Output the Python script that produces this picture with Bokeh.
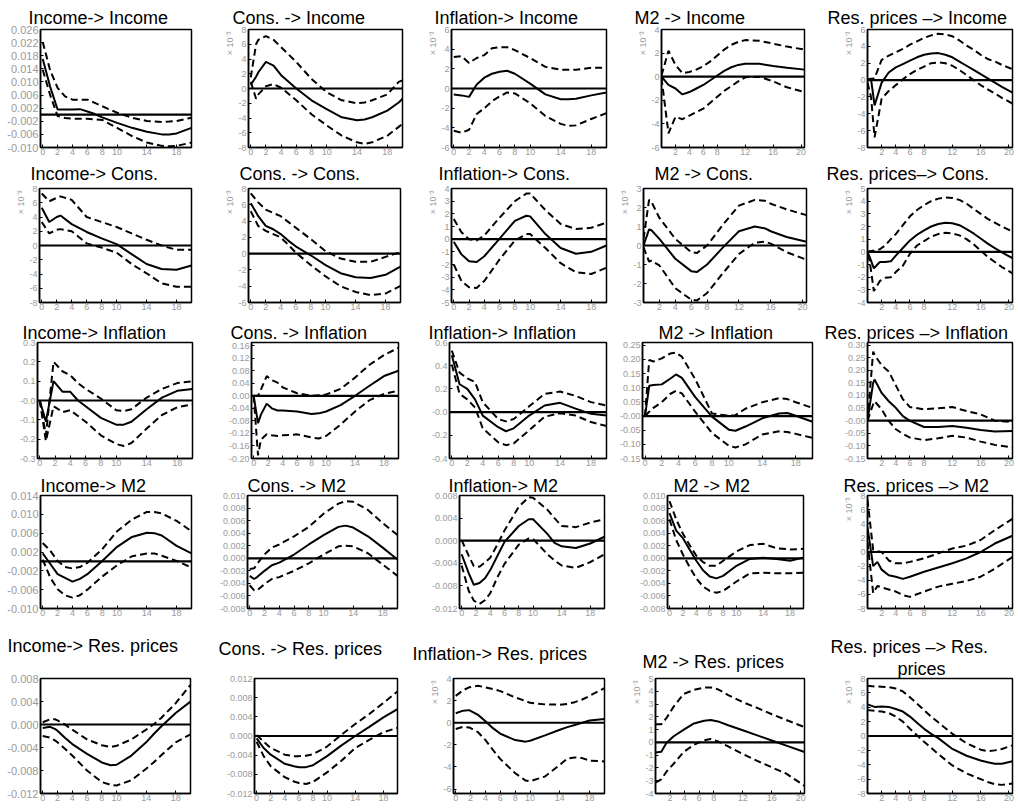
import math
from bokeh.plotting import figure
from bokeh.layouts import row, column
from bokeh.models import Span, Title, FixedTicker, Range1d, CustomJSTickFormatter
from bokeh.embed import file_html
from bokeh.resources import INLINE

# ---------------- x tick sets ----------------
XT_A = [0, 2, 4, 6, 8, 10, 14, 18]
XT_B = [2, 4, 6, 8, 12, 16, 20]

# ---------------- data ----------------
# Row 1 : -> Income
P11_T = [0, 1, 2, 3, 4, 5, 6, 7, 8, 10, 12, 14, 16, 17, 18, 20]
P11_MID = [0.0170, 0.0085, 0.0016, 0.0016, 0.0016, 0.0017, 0.0010, 0.0002, -0.0008, -0.0025, -0.0040, -0.0052, -0.0060, -0.0060, -0.0057, -0.0040]
P11_HI = [0.0222, 0.0135, 0.0082, 0.0056, 0.0046, 0.0046, 0.0046, 0.0036, 0.0026, 0.0006, -0.0009, -0.0019, -0.0022, -0.0021, -0.0019, -0.0009]
P11_LO = [0.0137, 0.0060, -0.0004, -0.0010, -0.0012, -0.0012, -0.0012, -0.0014, -0.0016, -0.0040, -0.0065, -0.0085, -0.0095, -0.0096, -0.0095, -0.0085]
P11_YT = [-0.010, -0.006, -0.002, 0.002, 0.006, 0.010, 0.014, 0.018, 0.022, 0.026]
P11_YL = ["-0.010", "-0.006", "-0.002", "0.002", "0.006", "0.010", "0.014", "0.018", "0.022", "0.026"]

P12_T = [0, 0.7, 1, 2, 3, 4, 6, 8, 10, 12, 14, 15, 16, 18, 19.5, 20]
P12_MID = [0.5, 1.6, 2.2, 3.6, 3.1, 1.8, 0.0, -1.6, -2.8, -3.9, -4.3, -4.2, -3.9, -3.0, -1.9, -1.4]
P12_HI = [1.5, 6.0, 6.6, 7.1, 6.6, 5.6, 3.6, 1.3, -0.5, -1.6, -2.0, -1.9, -1.6, -0.8, 0.9, 1.1]
P12_LO = [0.9, -1.4, -0.8, 0.3, 0.6, 0.1, -1.6, -3.5, -5.0, -6.4, -7.3, -7.5, -7.3, -6.4, -5.2, -4.8]
P12_YT = [-8, -6, -4, -2, 0, 2, 4, 6, 8]
P12_YL = ["-8", "-6", "-4", "-2", "0", "2", "4", "6", "8"]

P13_T = [0, 1, 2, 3, 4, 5, 6, 7, 8, 10, 12, 14, 15, 16, 18, 20]
P13_MID = [-0.6, -0.7, -0.85, 0.4, 1.1, 1.5, 1.7, 1.8, 1.5, 0.5, -0.6, -1.1, -1.1, -1.05, -0.7, -0.4]
P13_HI = [3.2, 3.3, 2.6, 3.1, 3.4, 4.1, 4.2, 4.2, 3.9, 3.1, 2.2, 1.9, 1.9, 1.9, 2.1, 2.1]
P13_LO = [-4.3, -4.5, -4.2, -2.6, -2.0, -1.3, -0.8, -0.4, -0.5, -1.5, -2.8, -3.6, -3.8, -3.75, -3.1, -2.5]
P13_YT = [-6, -4, -2, 0, 2, 4, 6]
P13_YL = ["-6", "-4", "-2", "0", "2", "4", "6"]

P14_T = [0, 1, 2, 3, 4, 5, 6, 7, 8, 9, 10, 11, 12, 14, 16, 18, 20.5]
P14_MID = [0.0, -0.7, -1.0, -1.5, -1.3, -1.0, -0.7, -0.3, 0.1, 0.5, 0.8, 1.0, 1.1, 1.1, 0.9, 0.75, 0.6]
P14_HI = [0.1, 2.2, 1.0, 0.3, 0.4, 0.6, 0.9, 1.3, 1.8, 2.3, 2.7, 2.95, 3.1, 3.05, 2.8, 2.55, 2.3]
P14_LO = [-0.1, -4.8, -3.4, -3.6, -3.3, -3.0, -2.7, -2.2, -1.7, -1.2, -0.8, -0.4, -0.05, 0.0, -0.4, -0.9, -1.3]
P14_YT = [-6, -4, -2, 0, 2, 4]
P14_YL = ["-6", "-4", "-2", "0", "2", "4"]

P15_T = [0, 0.5, 1, 2, 3, 4, 5, 6, 7, 8, 9, 10, 11, 12, 13, 14, 15, 16, 17, 18, 19, 20.5]
P15_MID = [0.0, 0.1, -3.0, -0.3, 0.9, 1.5, 1.9, 2.3, 2.7, 3.0, 3.15, 3.2, 3.0, 2.7, 2.2, 1.7, 1.2, 0.7, 0.2, -0.3, -0.8, -1.5]
P15_HI = [0.1, 0.15, 0.2, 2.4, 2.9, 3.3, 3.7, 4.2, 4.6, 5.0, 5.3, 5.5, 5.4, 5.2, 4.7, 4.1, 3.6, 3.0, 2.5, 2.2, 1.8, 1.3]
P15_LO = [-0.3, -2.0, -6.8, -2.2, -1.3, -0.6, 0.1, 0.7, 1.2, 1.6, 2.0, 2.1, 2.0, 1.7, 1.2, 0.6, 0.0, -0.6, -1.1, -1.6, -2.1, -2.8]
P15_YT = [-8, -6, -4, -2, 0, 2, 4, 6]
P15_YL = ["-8", "-6", "-4", "-2", "0", "2", "4", "6"]

# Row 2 : -> Cons.
P21_T = [0, 1, 2, 2.5, 4, 6, 8, 10, 12, 14, 16, 18, 20]
P21_MID = [5.3, 3.3, 4.0, 4.2, 3.0, 1.9, 1.0, 0.2, -1.2, -2.6, -3.3, -3.4, -2.8]
P21_HI = [7.3, 6.2, 6.7, 6.9, 6.4, 4.0, 3.3, 2.6, 1.7, 0.8, 0.0, -0.6, -0.6]
P21_LO = [3.3, 1.7, 2.2, 2.3, 2.0, 0.3, -0.3, -1.0, -2.6, -3.9, -5.3, -5.8, -5.8]
P21_YT = [-8, -6, -4, -2, 0, 2, 4, 6, 8]
P21_YL = ["-8", "-6", "-4", "-2", "0", "2", "4", "6", "8"]

P22_T = [0, 1, 2, 3, 4, 5, 6, 8, 10, 12, 14, 16, 18, 20]
P22_MID = [6.2, 4.6, 3.4, 3.0, 2.4, 1.6, 0.9, -0.2, -1.4, -2.4, -2.9, -3.0, -2.6, -1.6]
P22_HI = [7.4, 6.3, 5.4, 5.0, 4.6, 3.9, 3.2, 1.8, 0.3, -0.6, -1.0, -1.0, -0.4, 0.2]
P22_LO = [5.2, 3.4, 2.8, 2.4, 2.0, 1.1, 0.15, -1.4, -2.8, -4.0, -4.7, -5.1, -4.9, -3.95]
P22_YT = [-6, -4, -2, 0, 2, 4, 6, 8]
P22_YL = ["-6", "-4", "-2", "0", "2", "4", "6", "8"]

P23_T = [0, 1, 2, 3, 4, 6, 8, 9.5, 10, 12, 14, 16, 18, 20]
P23_MID = [-0.2, -1.2, -1.75, -1.8, -1.35, 0.05, 1.45, 1.85, 1.8, 0.4, -0.7, -1.15, -1.0, -0.5]
P23_HI = [1.6, 0.55, 0.0, -0.1, 0.3, 1.7, 3.0, 3.6, 3.6, 2.3, 1.2, 0.8, 0.9, 1.3]
P23_LO = [-2.0, -3.3, -3.8, -3.85, -3.3, -1.6, -0.1, 0.4, 0.4, -0.7, -1.9, -2.6, -2.75, -2.25]
P23_YT = [-5, -4, -3, -2, -1, 0, 1, 2, 3, 4]
P23_YL = ["-5", "-4", "-3", "-2", "-1", "0", "1", "2", "3", "4"]

P24_T = [0, 0.7, 1, 2, 4, 6, 6.7, 8, 10, 12, 14, 15.3, 16, 18, 20.5]
P24_MID = [0.0, 0.85, 0.8, 0.35, -0.7, -1.35, -1.4, -1.0, -0.1, 0.75, 1.0, 0.9, 0.75, 0.45, 0.2]
P24_HI = [0.35, 2.4, 2.3, 1.45, 0.35, -0.35, -0.4, 0.0, 1.1, 2.1, 2.4, 2.35, 2.2, 1.9, 1.6]
P24_LO = [-0.1, -0.85, -0.8, -1.05, -2.25, -2.85, -2.9, -2.5, -1.45, -0.45, 0.15, 0.2, 0.1, -0.35, -0.75]
P24_YT = [-3, -2, -1, 0, 1, 2, 3]
P24_YL = ["-3", "-2", "-1", "0", "1", "2", "3"]

P25_T = [0, 0.3, 0.9, 1.75, 2.5, 3.3, 4, 5, 6, 7, 8, 9, 10, 11, 12, 13, 14, 15, 16, 17, 18, 19, 20.5]
P25_MID = [0.0, -0.4, -1.3, -0.8, -0.8, -0.75, -0.3, 0.3, 0.9, 1.35, 1.7, 2.0, 2.2, 2.3, 2.25, 2.1, 1.8, 1.45, 1.05, 0.65, 0.3, -0.05, -0.5]
P25_HI = [0.0, 0.05, 0.1, 0.2, 0.5, 1.0, 1.4, 2.1, 2.8, 3.3, 3.7, 4.0, 4.2, 4.3, 4.25, 4.1, 3.8, 3.4, 3.0, 2.6, 2.3, 2.0, 1.6]
P25_LO = [-0.2, -0.7, -3.1, -2.3, -2.05, -2.0, -1.6, -1.1, -0.15, 0.5, 0.85, 1.2, 1.4, 1.5, 1.45, 1.3, 1.0, 0.6, 0.1, -0.4, -0.8, -1.2, -1.7]
P25_YT = [-4, -3, -2, -1, 0, 1, 2, 3, 4, 5]
P25_YL = ["-4", "-3", "-2", "-1", "0", "1", "2", "3", "4", "5"]

# Row 3 : -> Inflation
P31_T = [0, 0.8, 1.8, 3, 4, 5, 6, 8, 10, 11, 12, 14, 16, 18, 20]
P31_MID = [0.0, -0.11, 0.10, 0.045, 0.045, 0.0, -0.03, -0.09, -0.125, -0.125, -0.11, -0.045, 0.015, 0.05, 0.06]
P31_HI = [0.0, -0.18, 0.20, 0.15, 0.13, 0.09, 0.06, 0.01, -0.05, -0.055, -0.045, 0.015, 0.06, 0.09, 0.10]
P31_LO = [0.0, -0.21, -0.03, -0.06, -0.05, -0.08, -0.11, -0.18, -0.225, -0.235, -0.22, -0.145, -0.075, -0.035, -0.02]
P31_YT = [-0.3, -0.2, -0.1, 0.0, 0.1, 0.2, 0.3]
P31_YL = ["-0.3", "-0.2", "-0.1", "-0.0", "0.1", "0.2", "0.3"]

P32_T = [0, 0.6, 1, 1.8, 2.5, 3.3, 4, 6, 8, 9, 10, 12, 14, 16, 18, 20]
P32_MID = [0.0, -0.087, -0.06, -0.025, -0.04, -0.047, -0.047, -0.05, -0.058, -0.056, -0.05, -0.03, 0.0, 0.032, 0.063, 0.08]
P32_HI = [0.0, 0.0, 0.02, 0.063, 0.05, 0.042, 0.027, 0.008, 0.0, 0.002, 0.004, 0.022, 0.058, 0.099, 0.13, 0.153]
P32_LO = [0.0, -0.19, -0.14, -0.123, -0.126, -0.128, -0.126, -0.123, -0.133, -0.136, -0.128, -0.092, -0.05, -0.014, 0.006, 0.016]
P32_YT = [-0.20, -0.16, -0.12, -0.08, -0.04, 0.0, 0.04, 0.08, 0.12, 0.16]
P32_YL = ["-0.20", "-0.16", "-0.12", "-0.08", "-0.04", "0.00", "0.04", "0.08", "0.12", "0.16"]

P33_T = [0, 1, 2, 3, 4, 6, 7, 8, 10, 12, 14, 16, 18, 20]
P33_MID = [0.49, 0.24, 0.20, 0.11, -0.03, -0.13, -0.165, -0.14, -0.03, 0.057, 0.08, 0.03, -0.015, -0.03]
P33_HI = [0.53, 0.34, 0.29, 0.26, 0.085, -0.06, -0.08, -0.06, 0.05, 0.157, 0.177, 0.14, 0.086, 0.057]
P33_LO = [0.41, 0.157, 0.11, 0.04, -0.14, -0.26, -0.285, -0.27, -0.157, -0.04, -0.01, -0.03, -0.086, -0.12]
P33_YT = [-0.4, -0.2, 0.0, 0.2, 0.4, 0.6]
P33_YL = ["-0.4", "-0.2", "-0.0", "0.2", "0.4", "0.6"]

P34_T = [0, 0.5, 1, 2, 3, 3.7, 4.4, 6, 8, 10, 10.8, 12, 14, 16, 17, 18, 20]
P34_MID = [0.0, 0.107, 0.11, 0.112, 0.132, 0.147, 0.135, 0.067, -0.002, -0.048, -0.052, -0.037, -0.008, 0.009, 0.011, 0.001, -0.02]
P34_HI = [0.0, 0.198, 0.193, 0.204, 0.221, 0.224, 0.21, 0.13, 0.009, 0.001, 0.003, 0.026, 0.049, 0.063, 0.06, 0.049, 0.029]
P34_LO = [0.0, 0.015, 0.029, 0.049, 0.078, 0.089, 0.08, 0.015, -0.06, -0.105, -0.111, -0.10, -0.065, -0.054, -0.056, -0.063, -0.077]
P34_YT = [-0.15, -0.10, -0.05, 0.0, 0.05, 0.10, 0.15, 0.20, 0.25]
P34_YL = ["-0.15", "-0.10", "-0.05", "-0.00", "0.05", "0.10", "0.15", "0.20", "0.25"]

P35_T = [0, 0.8, 1, 2, 3, 4, 5, 6, 8, 10, 12, 14, 16, 18, 20.5]
P35_MID = [0.0, 0.15, 0.163, 0.11, 0.077, 0.051, 0.018, -0.001, -0.025, -0.025, -0.021, -0.028, -0.037, -0.043, -0.041]
P35_HI = [0.0, 0.274, 0.26, 0.22, 0.195, 0.14, 0.085, 0.054, 0.045, 0.049, 0.054, 0.038, 0.025, 0.0, -0.005]
P35_LO = [0.0, 0.065, 0.077, 0.045, -0.001, -0.034, -0.052, -0.067, -0.077, -0.07, -0.06, -0.067, -0.083, -0.096, -0.106]
P35_YT = [-0.15, -0.10, -0.05, 0.0, 0.05, 0.10, 0.15, 0.20, 0.25, 0.30]
P35_YL = ["-0.15", "-0.10", "-0.05", "-0.00", "0.05", "0.10", "0.15", "0.20", "0.25", "0.30"]

# Row 4 : -> M2
P41_T = [0, 1, 2, 3, 4, 5, 6, 8, 10, 12, 14, 15, 16, 18, 20]
P41_MID = [0.0017, -0.0005, -0.0027, -0.0035, -0.0043, -0.0037, -0.0027, 0.0001, 0.0031, 0.0052, 0.0061, 0.0060, 0.0055, 0.0033, 0.0017]
P41_HI = [0.0039, 0.0023, 0.0001, -0.0012, -0.0015, -0.0012, -0.0003, 0.0026, 0.0064, 0.0089, 0.0105, 0.0105, 0.0102, 0.0086, 0.0064]
P41_LO = [0.0004, -0.0034, -0.0059, -0.0072, -0.0077, -0.0072, -0.0060, -0.0032, -0.0008, 0.0011, 0.0017, 0.0017, 0.0012, 0.0001, -0.0013]
P41_YT = [-0.010, -0.006, -0.002, 0.002, 0.006, 0.010, 0.014]
P41_YL = ["-0.010", "-0.006", "-0.002", "0.002", "0.006", "0.010", "0.014"]

P42_T = [0, 0.6, 1, 2, 3, 4, 6, 8, 10, 12, 13, 14, 16, 18, 20]
P42_MID = [-0.0028, -0.0033, -0.0030, -0.0020, -0.0011, -0.0007, 0.0006, 0.0022, 0.0037, 0.0050, 0.0052, 0.0049, 0.0035, 0.0017, -0.0002]
P42_HI = [-0.0017, -0.0016, -0.0009, 0.0006, 0.0017, 0.0022, 0.0035, 0.0050, 0.0071, 0.0087, 0.0091, 0.0090, 0.0077, 0.0056, 0.0037]
P42_LO = [-0.0043, -0.0051, -0.0051, -0.0041, -0.0033, -0.0030, -0.0020, -0.0008, 0.0006, 0.0019, 0.0020, 0.0019, 0.0008, -0.0010, -0.0028]
P42_YT = [-0.008, -0.006, -0.004, -0.002, 0.0, 0.002, 0.004, 0.006, 0.008, 0.010]
P42_YL = ["-0.008", "-0.006", "-0.004", "-0.002", "0.000", "0.002", "0.004", "0.006", "0.008", "0.010"]

P43_T = [0, 1, 1.7, 2.5, 3.3, 4, 5, 6, 8, 9.4, 10, 12, 13, 14, 16, 18, 20]
P43_MID = [-0.0024, -0.0058, -0.0078, -0.0075, -0.0066, -0.0052, -0.0027, -0.0002, 0.0026, 0.0038, 0.0038, 0.0012, -0.0004, -0.0010, -0.0013, -0.0005, 0.0007]
P43_HI = [0.0001, -0.0027, -0.0045, -0.0046, -0.0038, -0.0030, -0.0007, 0.0018, 0.0060, 0.0077, 0.0076, 0.0055, 0.0040, 0.0026, 0.0024, 0.0032, 0.0038]
P43_LO = [-0.0044, -0.0089, -0.0106, -0.0112, -0.0105, -0.0093, -0.0065, -0.0041, -0.0007, 0.0004, 0.0003, -0.0024, -0.0035, -0.0044, -0.0048, -0.0038, -0.0024]
P43_YT = [-0.012, -0.008, -0.004, 0.0, 0.004, 0.008]
P43_YL = ["-0.012", "-0.008", "-0.004", "0.000", "0.004", "0.008"]

P44_T = [0, 1, 2, 3, 4, 5, 6, 7, 8, 10, 12, 14, 16, 18, 20]
P44_MID = [0.0072, 0.0044, 0.0032, 0.0014, -0.0004, -0.0019, -0.0029, -0.0032, -0.0028, -0.0012, -0.0001, 0.0001, -0.0001, -0.0004, 0.0001]
P44_HI = [0.0091, 0.0062, 0.0039, 0.0021, 0.0004, -0.0006, -0.0012, -0.0012, -0.0004, 0.0011, 0.0021, 0.0023, 0.0016, 0.0014, 0.0015]
P44_LO = [0.0062, 0.0029, 0.0006, -0.0014, -0.0032, -0.0045, -0.0052, -0.0055, -0.0052, -0.0037, -0.0024, -0.0023, -0.0024, -0.0024, -0.0023]
P44_YT = [-0.008, -0.006, -0.004, -0.002, 0.0, 0.002, 0.004, 0.006, 0.008, 0.010]
P44_YL = ["-0.008", "-0.006", "-0.004", "-0.002", "0.000", "0.002", "0.004", "0.006", "0.008", "0.010"]

P45_T = [0, 0.8, 1.4, 2, 3, 4, 5, 6, 8, 10, 12, 14, 16, 18, 20.5]
P45_MID = [3.5, -2.0, -1.4, -2.5, -3.3, -3.5, -3.8, -3.5, -2.8, -2.2, -1.6, -0.9, 0.0, 1.2, 2.3]
P45_HI = [7.4, 0.3, 0.1, 0.0, -1.2, -1.6, -1.6, -1.4, -0.9, -0.2, 0.5, 0.9, 1.7, 3.1, 4.7]
P45_LO = [1.4, -5.8, -4.8, -5.0, -5.3, -5.6, -6.1, -6.35, -5.6, -4.9, -4.5, -4.1, -3.5, -2.35, -0.7]
P45_YT = [-8, -6, -4, -2, 0, 2, 4, 6, 8]
P45_YL = ["-8", "-6", "-4", "-2", "0", "2", "4", "6", "8"]

# Row 5 : -> Res. prices
P51_T = [0, 1, 1.7, 2, 3, 4, 6, 8, 9.2, 10, 12, 14, 15, 16, 18, 20]
P51_MID = [-0.0006, -0.0004, -0.0008, -0.0011, -0.0023, -0.0034, -0.0051, -0.0066, -0.0071, -0.0070, -0.0054, -0.0031, -0.0017, -0.0004, 0.0020, 0.0040]
P51_HI = [0.0004, 0.0009, 0.0009, 0.0007, 0.0000, -0.0009, -0.0026, -0.0036, -0.0039, -0.0037, -0.0026, -0.0009, 0.0000, 0.0011, 0.0037, 0.0069]
P51_LO = [-0.0020, -0.0023, -0.0028, -0.0031, -0.0042, -0.0054, -0.0080, -0.0100, -0.0105, -0.0106, -0.0097, -0.0077, -0.0066, -0.0054, -0.0031, -0.0017]
P51_YT = [-0.012, -0.008, -0.004, 0.0, 0.004, 0.008]
P51_YL = ["-0.012", "-0.008", "-0.004", "0.000", "0.004", "0.008"]

P52_T = [0, 1, 2, 4, 5.3, 6, 7, 8, 10, 12, 14, 16, 18, 20]
P52_MID = [-0.0005, -0.0025, -0.0039, -0.0058, -0.0063, -0.0065, -0.0065, -0.0061, -0.0042, -0.0020, 0.0000, 0.0019, 0.0039, 0.0056]
P52_HI = [0.0002, -0.0012, -0.0025, -0.0039, -0.0042, -0.0042, -0.0041, -0.0038, -0.0022, 0.0002, 0.0025, 0.0046, 0.0069, 0.0093]
P52_LO = [-0.0012, -0.0042, -0.0063, -0.0086, -0.0095, -0.0098, -0.0100, -0.0096, -0.0076, -0.0052, -0.0025, -0.0008, 0.0008, 0.0017]
P52_YT = [-0.012, -0.008, -0.004, 0.0, 0.004, 0.008, 0.012]
P52_YL = ["-0.012", "-0.008", "-0.004", "0.000", "0.004", "0.008", "0.012"]

P53_T = [0, 1, 1.8, 3, 4, 5, 6, 8, 9.4, 10, 12, 14, 15, 16, 17, 18, 20]
P53_MID = [0.86, 1.09, 1.14, 0.71, 0.14, -0.49, -1.0, -1.57, -1.71, -1.63, -1.14, -0.63, -0.4, -0.2, 0.0, 0.2, 0.34]
P53_HI = [2.43, 2.94, 3.2, 3.34, 3.2, 3.05, 2.86, 2.29, 1.95, 1.8, 1.66, 1.63, 1.7, 1.86, 2.1, 2.43, 3.14]
P53_LO = [-0.57, -0.37, -0.43, -0.86, -1.57, -2.45, -3.29, -4.57, -5.23, -5.29, -4.86, -3.8, -3.23, -3.14, -3.2, -3.43, -3.5]
P53_YT = [-6, -4, -2, 0, 2, 4]
P53_YL = ["-6", "-4", "-2", "0", "2", "4"]

P54_T = [0, 0.8, 1.5, 2.5, 3.9, 5.3, 6.7, 7.6, 8.6, 10, 12, 14, 16, 18, 20.5]
P54_MID = [-0.8, -0.73, -0.05, 0.48, 1.0, 1.48, 1.7, 1.75, 1.64, 1.34, 0.95, 0.55, 0.15, -0.25, -0.75]
P54_HI = [1.42, 1.42, 1.9, 2.8, 3.8, 4.11, 4.3, 4.3, 4.15, 3.7, 3.15, 2.7, 2.2, 1.75, 1.2]
P54_LO = [-3.15, -2.9, -2.3, -1.67, -0.73, -0.19, 0.16, 0.27, 0.08, -0.32, -0.9, -1.45, -1.95, -2.45, -3.4]
P54_YT = [-4, -3, -2, -1, 0, 1, 2, 3, 4, 5]
P54_YL = ["-4", "-3", "-2", "-1", "0", "1", "2", "3", "4", "5"]

P55_T = [0, 1, 2, 3, 4, 5, 6, 7, 8, 9, 10, 12, 14, 16, 17, 18, 19, 20.5]
P55_MID = [4.4, 4.05, 4.1, 4.05, 3.75, 3.4, 2.7, 1.85, 1.0, 0.3, -0.3, -1.8, -2.75, -3.4, -3.65, -3.85, -3.85, -3.5]
P55_HI = [7.0, 6.9, 6.85, 6.8, 6.6, 6.2, 5.4, 4.5, 3.6, 2.7, 1.9, 0.3, -1.0, -1.9, -2.1, -2.0, -1.8, -1.3]
P55_LO = [3.6, 3.5, 3.4, 3.2, 2.7, 2.0, 1.0, 0.1, -0.8, -1.65, -2.5, -4.1, -5.2, -6.0, -6.4, -6.7, -6.8, -6.6]
P55_YT = [-8, -6, -4, -2, 0, 2, 4, 6, 8]
P55_YL = ["-8", "-6", "-4", "-2", "0", "2", "4", "6", "8"]

# panel titles (row = response variable, column = shock)
TITLES = [
    ["Income-> Income", "Cons. -> Income", "Inflation-> Income", "M2 -> Income", "Res. prices \u2013> Income"],
    ["Income-> Cons.", "Cons.  -> Cons.", "Inflation-> Cons.", "M2 -> Cons.", "Res. prices\u2013> Cons."],
    ["Income-> Inflation", "Cons. -> Inflation", "Inflation-> Inflation", "M2 -> Inflation", "Res. prices \u2013> Inflation"],
    ["Income-> M2", "Cons.  -> M2", "Inflation-> M2", "M2 -> M2", "Res. prices \u2013> M2"],
    ["Income-> Res. prices", "Cons. -> Res. prices", "Inflation-> Res. prices", "M2 -> Res. prices", "Res. prices \u2013> Res.|prices"],
]

# y-axis limits of each panel
Y_LIMITS = [
    [(-0.010, 0.026), (-8, 8), (-6, 6), (-6, 4), (-8, 6)],
    [(-8, 8), (-6, 8), (-5, 4), (-3, 3), (-4, 5)],
    [(-0.3, 0.3), (-0.2, 0.17), (-0.4, 0.6), (-0.15, 0.26), (-0.15, 0.31)],
    [(-0.010, 0.014), (-0.008, 0.010), (-0.012, 0.008), (-0.008, 0.010), (-8, 8)],
    [(-0.012, 0.008), (-0.012, 0.012), (-6.4, 4), (-4, 5), (-8, 8)],
]

# panels whose values are shown in units of 10^-3
SCALED = [
    [False, True, True, True, True],
    [True, True, True, True, True],
    [False, False, False, False, False],
    [False, False, False, False, True],
    [False, False, True, True, True],
]
SCALE_TEXT = "\u00d7 10\u207b\u00b3"

# which x tick set each panel uses
XKIND = [
    ["A", "A", "A", "B", "B"],
    ["A", "A", "A", "B", "B"],
    ["A", "A", "A", "A", "B"],
    ["A", "A", "A", "A", "B"],
    ["A", "A", "A", "B", "B"],
]

SERIES = {}
for _r in range(5):
    for _c in range(5):
        _k = "P%d%d" % (_r + 1, _c + 1)
        g = globals()
        SERIES[(_r, _c)] = (g[_k + "_T"], g[_k + "_MID"], g[_k + "_LO"], g[_k + "_HI"], g[_k + "_YT"], g[_k + "_YL"])

# ---------------- layout (page pixels) ----------------
ROW_Y = [0, 160, 319, 472, 632, 811]
COL_X = [0, 206, 412, 616, 822, 1018]
FRAME = [
    [(40, 191, 29, 148), (248, 402, 29, 147), (451, 606, 29, 148), (661, 804, 29, 148), (867, 1012, 29, 148)],
    [(39, 191, 188, 307), (248, 400, 188, 306), (451, 606, 188, 306), (642, 806, 188, 305), (867, 1012, 188, 302)],
    [(37, 192, 342, 460), (251, 398, 342, 460), (449, 606, 342, 460), (637, 812, 342, 460), (867, 1012, 342, 458)],
    [(40, 191, 495, 620), (247, 397, 495, 610), (459, 604, 495, 613), (667, 803, 495, 613), (867, 1012, 495, 608)],
    [(40, 190, 678, 795), (254, 397, 675, 793), (453, 604, 670, 795), (655, 804, 662, 793), (867, 1012, 672, 793)],
]
TITLE_LEFT = [
    [28, 232, 434, 634, 827],
    [30, 239, 438, 653, 826],
    [22, 230, 428, 653, 824],
    [40, 247, 448, 673, 843],
    [7, 218, 412, 642, 830],
]
TITLE_BASE = [23, 176, 336, 486, 648]
SECOND_LINE_LEFT = 897
SECOND_LINE_BASE = 664
TITLE_BOX = 23          # height a one-line 18px title takes in the top border

FONT = "Liberation Sans"
GRAY = "#9a9a9a"


def make_title(text, offset, gap):
    """Title whose text bottom sits `gap` px above the frame."""
    kw = dict(text=text, align="left", offset=offset, text_font=FONT, text_font_size="18px",
              text_font_style="normal", text_color="black", vertical_align="bottom")
    gap = max(0, gap)
    try:
        return Title(standoff=0, padding=dict(left=0, right=0, top=0, bottom=gap), **kw)
    except Exception:
        return Title(standoff=2 * gap, **kw)


def make_panel(r, c):
    T, MID, LO, HI, YT, YL = SERIES[(r, c)]
    fl, fr, ft, fb = FRAME[r][c]
    x0, x1 = COL_X[c], COL_X[c + 1]
    y0, y1 = ROW_Y[r], ROW_Y[r + 1]
    xt = XT_A if XKIND[r][c] == "A" else XT_B
    xr = (-0.3, 20.0) if XKIND[r][c] == "A" else (0.0, 20.5)
    p = figure(width=x1 - x0, height=y1 - y0,
               x_range=Range1d(*xr), y_range=Range1d(*Y_LIMITS[r][c]),
               output_backend="svg", toolbar_location=None, title=None,
               min_border_left=fl - x0, min_border_right=x1 - fr,
               min_border_top=ft - y0, min_border_bottom=y1 - fb)
    p.grid.visible = False
    p.outline_line_color = "black"
    p.outline_line_width = 1.5
    p.background_fill_color = "white"
    p.border_fill_color = "white"

    big = (c == 0 and r in (0, 3, 4))
    for ax in (p.xaxis[0], p.yaxis[0]):
        ax.axis_line_color = "black"
        ax.axis_line_width = 1.5
        ax.major_tick_in = 3
        ax.major_tick_out = 0
        ax.minor_tick_in = 0
        ax.minor_tick_out = 0
        ax.major_tick_line_color = "black"
        ax.major_label_text_color = GRAY
        ax.major_label_text_font = FONT
        ax.major_label_standoff = 2
        ax.major_label_text_font_size = "9px"
    p.xaxis[0].major_label_standoff = 1
    p.yaxis[0].major_label_text_font_size = "11px" if big else "9px"
    p.xaxis[0].ticker = FixedTicker(ticks=xt)
    p.yaxis[0].ticker = FixedTicker(ticks=YT)
    p.yaxis[0].formatter = CustomJSTickFormatter(args=dict(vals=YT, labs=YL), code="""
        let best = 0, d = Infinity;
        for (let i = 0; i < vals.length; i++) {
            const e = Math.abs(vals[i] - tick);
            if (e < d) { d = e; best = i; }
        }
        return labs[best];
    """)

    # zero line and the three response lines
    p.add_layout(Span(location=0, dimension="width", line_color="black", line_width=2.2))
    p.line(T, HI, line_color="black", line_width=2, line_dash="7 4")
    p.line(T, LO, line_color="black", line_width=2, line_dash="7 4")
    p.line(T, MID, line_color="black", line_width=2)

    # "x 10^-3" scale note, placed at the top of the left side
    if SCALED[r][c]:
        p.add_layout(Title(text=SCALE_TEXT, align="right", offset=2, text_font=FONT,
                           text_font_size="9px", text_font_style="normal", text_color=GRAY,
                           standoff=2), "left")

    # titles (first added sits next to the frame)
    border = ft - y0
    lines = TITLES[r][c].split("|")
    if len(lines) == 1:
        gap = min(ft - TITLE_BASE[r] - 4, border - TITLE_BOX)
        p.add_layout(make_title(lines[0], TITLE_LEFT[r][c] - fl, gap), "above")
    else:
        p.add_layout(make_title(lines[1], SECOND_LINE_LEFT - fl, 0), "above")
        p.add_layout(make_title(lines[0], TITLE_LEFT[r][c] - fl, 0), "above")
    return p


rows = [row(*[make_panel(r, c) for c in range(5)]) for r in range(5)]
layout = column(*rows)
open("out.html", "w").write(file_html(layout, INLINE, "Impulse responses"))
